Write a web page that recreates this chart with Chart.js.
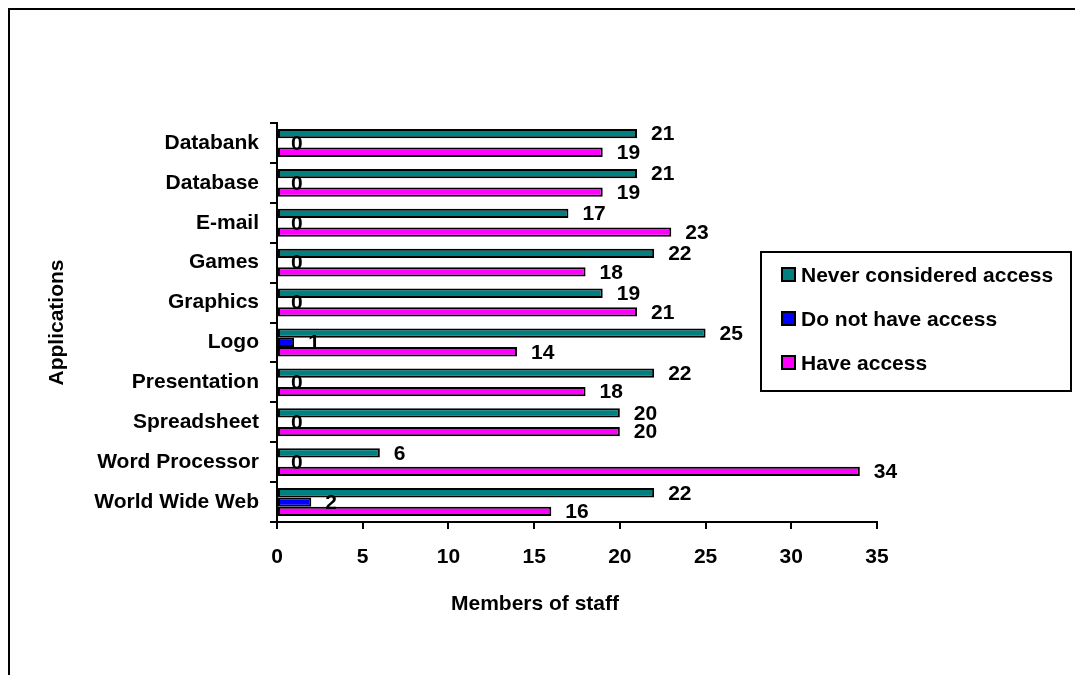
<!DOCTYPE html>
<html>
<head>
<meta charset="utf-8">
<script src="https://cdn.jsdelivr.net/npm/chart.js@4/dist/chart.umd.min.js"></script>
<style>
  html, body { margin: 0; padding: 0; background: #fff; }
  #wrap { position: relative; width: 1075px; height: 675px; overflow: hidden; }
  #frame {
    position: absolute; left: 8px; top: 8px; width: 1200px; height: 800px;
    border-left: 2px solid #000; border-top: 2px solid #000;
  }
  canvas { position: absolute; left: 0; top: 0; }
</style>
</head>
<body>
<div id="wrap">
  <div id="frame"></div>
  <canvas id="staffChart" width="1075" height="675"></canvas>
</div>
<script>
const applications = ['Databank', 'Database', 'E-mail', 'Games', 'Graphics', 'Logo',
  'Presentation', 'Spreadsheet', 'Word Processor', 'World Wide Web'];
const neverConsidered = [21, 21, 17, 22, 19, 25, 22, 20, 6, 22];
const noAccess = [0, 0, 0, 0, 0, 1, 0, 0, 0, 2];
const haveAccess = [19, 19, 23, 18, 21, 14, 18, 20, 34, 16];
const seriesNames = ['Never considered access', 'Do not have access', 'Have access'];
const seriesColors = ['#008080', '#0000ff', '#ff00ff'];
const xTicks = [0, 5, 10, 15, 20, 25, 30, 35];

const FONT = '"Liberation Sans", Arial, sans-serif';
const boldFont = { family: FONT, size: 21, weight: 'bold' };

// value labels to the right of every bar, x axis title and the boxed legend
const extrasPlugin = {
  id: 'extras',
  afterDatasetsDraw(chart) {
    const ctx = chart.ctx;
    ctx.save();
    ctx.font = 'bold 21px ' + FONT;
    ctx.fillStyle = '#000';
    ctx.textBaseline = 'middle';
    ctx.textAlign = 'left';
    chart.data.datasets.forEach((ds, i) => {
      chart.getDatasetMeta(i).data.forEach((bar, j) => {
        ctx.fillText(String(ds.data[j]), bar.x + 14, bar.y + 1);
      });
    });
    ctx.restore();
  },
  afterDraw(chart) {
    const ctx = chart.ctx;
    ctx.save();
    ctx.font = 'bold 21px ' + FONT;
    ctx.fillStyle = '#000';
    ctx.textAlign = 'center';
    ctx.textBaseline = 'middle';
    ctx.fillText('Members of staff', 535, 604);

    // legend box
    ctx.lineWidth = 2;
    ctx.strokeStyle = '#000';
    ctx.strokeRect(761, 252, 310, 139);
    ctx.textAlign = 'left';
    chart.data.datasets.forEach((ds, i) => {
      const cy = 275 + i * 44;
      ctx.fillStyle = ds.backgroundColor;
      ctx.fillRect(782, cy - 7, 13, 13);
      ctx.strokeRect(782, cy - 7, 13, 13);
      ctx.fillStyle = '#000';
      ctx.fillText(ds.label, 801, cy + 1);
    });
    ctx.restore();
  }
};

const datasets = [neverConsidered, noAccess, haveAccess].map((values, i) => ({
  label: seriesNames[i],
  data: values,
  backgroundColor: seriesColors[i],
  borderColor: '#000',
  borderWidth: 2,
  borderSkipped: false,
  categoryPercentage: 0.7,
  barPercentage: 1.0
}));

new Chart(document.getElementById('staffChart'), {
  type: 'bar',
  data: { labels: applications, datasets: datasets },
  options: {
    indexAxis: 'y',
    responsive: false,
    animation: false,
    events: [],
    layout: { padding: { left: 0, top: 123, right: 198, bottom: 0 } },
    plugins: {
      legend: { display: false },
      tooltip: { enabled: false }
    },
    scales: {
      x: {
        type: 'linear',
        min: 0,
        max: 35,
        afterFit(scale) { scale.height = 153; },
        afterBuildTicks(scale) { scale.ticks = xTicks.map((v) => ({ value: v })); },
        grid: { drawOnChartArea: false, drawTicks: true, tickLength: 7, color: '#000', lineWidth: 2 },
        border: { display: true, color: '#000', width: 2 },
        ticks: { color: '#000', font: boldFont, padding: 16, maxRotation: 0 }
      },
      y: {
        afterFit(scale) { scale.width = 277; },
        grid: { drawOnChartArea: false, drawTicks: true, tickLength: 7, color: '#000', lineWidth: 2, offset: true },
        border: { display: true, color: '#000', width: 2 },
        ticks: { color: '#000', font: boldFont, padding: 11, autoSkip: false },
        title: {
          display: true,
          text: 'Applications',
          color: '#000',
          font: boldFont,
          padding: { top: 45, bottom: 0 }
        }
      }
    }
  },
  plugins: [extrasPlugin]
});
</script>
</body>
</html>
